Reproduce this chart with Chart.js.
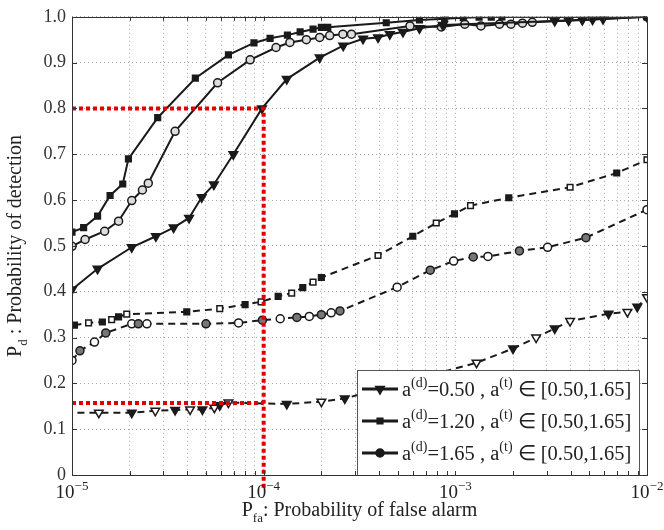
<!DOCTYPE html>
<html>
<head>
<meta charset="utf-8">
<script src="https://cdn.jsdelivr.net/npm/chart.js@4/dist/chart.umd.min.js"></script>
<style>
  body { margin: 0; background: #fff; }
  #wrap { width: 664px; height: 530px; }
</style>
</head>
<body>
<div id="wrap"><canvas id="chart" width="664" height="530"></canvas></div>
<script>
// a(d)=0.50, solid line, filled down-triangles
const triSolidX = [1e-5, 1.36e-5, 2.05e-5, 2.74e-5, 3.39e-5, 4.08e-5, 4.75e-5, 5.5e-5, 6.95e-5, 9.8e-5,
    1.32e-4, 1.96e-4, 2.6e-4, 3.3e-4, 3.95e-4, 4.55e-4, 5.33e-4, 6.5e-4, 8.6e-4,
    3.3e-3, 3.9e-3, 4.6e-3, 5.2e-3, 5.9e-3, 1e-2];
const triSolidY = [0.405, 0.45, 0.497, 0.521, 0.54, 0.561, 0.606, 0.634, 0.70, 0.80,
    0.864, 0.911, 0.937, 0.952, 0.955, 0.962, 0.967, 0.975, 0.982,
    0.991, 0.992, 0.993, 0.994, 0.995, 1.0];

// a(d)=1.20, solid line, filled squares
const sqSolidX = [1e-5, 1.15e-5, 1.36e-5, 1.58e-5, 1.84e-5, 1.97e-5, 2.8e-5, 4.4e-5, 6.55e-5, 8.9e-5,
    1.08e-4, 1.33e-4, 1.55e-4, 1.81e-4, 2.0e-4, 2.16e-4, 4.36e-4, 6.5e-4, 8.8e-4, 1.1e-3,
    1.33e-3, 1.54e-3, 1.75e-3, 1e-2];
const sqSolidY = [0.53, 0.54, 0.565, 0.61, 0.635, 0.69, 0.78, 0.866, 0.917, 0.943,
    0.953, 0.96, 0.967, 0.973, 0.977, 0.977, 0.987, 0.993, 0.996, 0.998,
    0.999, 0.999, 1.0, 1.0];

// a(d)=1.65, solid line, circles
const ciSolidX = [1e-5, 1.17e-5, 1.48e-5, 1.75e-5, 2.05e-5, 2.33e-5, 2.5e-5, 3.45e-5, 5.75e-5, 8.5e-5,
    1.16e-4, 1.37e-4, 1.67e-4, 1.96e-4, 2.21e-4, 2.59e-4, 2.87e-4, 5.8e-4, 8.45e-4, 1.12e-3,
    1.36e-3, 1.7e-3, 1.95e-3, 2.24e-3, 2.52e-3, 1e-2];
const ciSolidY = [0.499, 0.514, 0.532, 0.554, 0.599, 0.622, 0.637, 0.75, 0.856, 0.906,
    0.933, 0.944, 0.95, 0.955, 0.959, 0.962, 0.962, 0.98, 0.978, 0.984,
    0.98, 0.984, 0.984, 0.986, 0.988, 1.0];

// dashed counterparts
const triDashX = [8e-6, 1.38e-5, 2.05e-5, 2.72e-5, 3.45e-5, 4.13e-5, 4.79e-5, 5.53e-5, 5.9e-5, 6.55e-5,
    1.32e-4, 2e-4, 2.65e-4, 1.29e-3, 2.0e-3, 2.64e-3, 3.3e-3, 3.97e-3, 6.3e-3, 7.9e-3, 8.9e-3, 1e-2];
const triDashY = [0.136, 0.136, 0.136, 0.14, 0.142, 0.143, 0.143, 0.147, 0.152, 0.158,
    0.155, 0.16, 0.167, 0.245, 0.276, 0.3, 0.32, 0.336, 0.352, 0.356, 0.367, 0.388];

const sqDashX = [1.03e-5, 1.22e-5, 1.44e-5, 1.61e-5, 1.75e-5, 1.93e-5, 3.97e-5, 5.9e-5, 8.0e-5, 9.7e-5,
    1.19e-4, 1.4e-4, 1.6e-4, 1.81e-4, 2.0e-4, 3.95e-4, 6.0e-4, 7.95e-4, 9.9e-4, 1.2e-3,
    1.9e-3, 3.97e-3, 6.95e-3, 1e-2];
const sqDashY = [0.327, 0.332, 0.334, 0.339, 0.345, 0.351, 0.356, 0.363, 0.372, 0.378,
    0.39, 0.397, 0.409, 0.421, 0.431, 0.479, 0.521, 0.55, 0.57, 0.588,
    0.605, 0.628, 0.659, 0.688];

const ciDashX = [1e-5, 1.1e-5, 1.31e-5, 1.5e-5, 2.05e-5, 2.22e-5, 2.46e-5, 5e-5, 7.4e-5, 9.85e-5,
    1.22e-4, 1.49e-4, 1.73e-4, 2.0e-4, 2.25e-4, 2.5e-4, 4.97e-4, 7.4e-4, 9.8e-4, 1.24e-3,
    1.48e-3, 2.16e-3, 3.03e-3, 4.8e-3, 1e-2];
const ciDashY = [0.25, 0.271, 0.29, 0.31, 0.33, 0.33, 0.33, 0.33, 0.332, 0.338,
    0.341, 0.344, 0.346, 0.35, 0.354, 0.358, 0.41, 0.447, 0.467, 0.476,
    0.477, 0.489, 0.497, 0.518, 0.579];

// red guide lines (Pd = 0.8 and 0.157 at Pfa = 1e-4)
const guideHighX = [1e-5, 1e-4, 1e-4];
const guideHighY = [0.8, 0.8, -0.028];
const guideLowX = [1e-5, 1e-4];
const guideLowY = [0.157, 0.157];

// axes / legend text
const xDecades = [-5, -4, -3, -2];
const legendDet = ['0.50', '1.20', '1.65'];
const legendRange = '[0.50,1.65]';
const xTitle = [['P', 0], ['fa', -1], [': Probability of false alarm', 0]];
const yTitle = [['P', 0], ['d', -1], [' : Probability of detection', 0]];

const FONT = '"Liberation Serif", "Times New Roman", serif';
const INK = '#1a1a1a';

function pts(xs, ys) {
    return xs.map((x, i) => ({ x: x, y: ys[i] }));
}

function richWidth(ctx, parts, size) {
    let w = 0;
    for (const [t, k] of parts) {
        ctx.font = (k ? Math.round(size * 0.66) : size) + 'px ' + FONT;
        w += ctx.measureText(t).width;
    }
    return w;
}

function drawRich(ctx, parts, x, y, size) {
    let cx = x;
    for (const [t, k] of parts) {
        const fs = k ? Math.round(size * 0.66) : size;
        ctx.font = fs + 'px ' + FONT;
        const dy = k === 1 ? -size * 0.42 : (k === -1 ? size * 0.32 : 0);
        ctx.fillText(t, cx, y + dy);
        cx += ctx.measureText(t).width;
    }
}

const alt = c => (c.dataIndex % 2 ? '#fff' : INK);

const solid = { borderColor: INK, borderWidth: 2, pointBorderColor: INK, pointBorderWidth: 1.5, tension: 0 };
const dashed = Object.assign({}, solid, { borderDash: [7, 5] });

const datasets = [
    { label: 'guide high', data: pts(guideHighX, guideHighY), borderColor: '#e00000', borderWidth: 4,
      borderDash: [4, 3], pointRadius: 0, clip: false, fill: false },
    { label: 'guide low', data: pts(guideLowX, guideLowY), borderColor: '#e00000', borderWidth: 4,
      borderDash: [4, 3], pointRadius: 0, fill: false },
    Object.assign({ label: 'a(d)=0.50', data: pts(triSolidX, triSolidY), pointStyle: 'triangle', rotation: 180,
      pointRadius: 5, pointBackgroundColor: INK }, solid),
    Object.assign({ label: 'a(d)=1.20', data: pts(sqSolidX, sqSolidY), pointStyle: 'rect',
      pointRadius: 4, pointBackgroundColor: INK }, solid),
    Object.assign({ label: 'a(d)=1.65', data: pts(ciSolidX, ciSolidY), pointStyle: 'circle',
      pointRadius: 4, pointBackgroundColor: '#ddd' }, solid),
    Object.assign({ label: 'a(d)=0.50 dashed', data: pts(triDashX, triDashY), pointStyle: 'triangle', rotation: 180,
      pointRadius: 5, pointBackgroundColor: alt }, dashed),
    Object.assign({ label: 'a(d)=1.20 dashed', data: pts(sqDashX, sqDashY), pointStyle: 'rect',
      pointRadius: 4, pointBackgroundColor: alt }, dashed),
    Object.assign({ label: 'a(d)=1.65 dashed', data: pts(ciDashX, ciDashY), pointStyle: 'circle',
      pointRadius: 4, pointBackgroundColor: c => (c.dataIndex % 2 ? '#777' : '#fff') }, dashed)
];

const decorations = {
    id: 'decorations',
    afterDatasetsDraw(chart) {
        // legend box inside the plot, lower right
        const ctx = chart.ctx;
        const a = chart.chartArea;
        const box = { l: a.right - 290, t: a.bottom - 105, r: a.right - 7, b: a.bottom + 1 };
        ctx.save();
        ctx.fillStyle = '#fff';
        ctx.fillRect(box.l, box.t, box.r - box.l, box.b - box.t);
        ctx.strokeStyle = '#555';
        ctx.lineWidth = 1;
        ctx.strokeRect(box.l + 0.5, box.t + 0.5, box.r - box.l - 1, box.b - box.t - 1);
        const styles = [['triangle', 5, 180], ['rect', 4, 0], ['circle', 4, 0]];
        for (let i = 0; i < legendDet.length; i++) {
            const cy = box.t + 19 + i * 32;
            ctx.strokeStyle = INK;
            ctx.lineWidth = 3;
            ctx.setLineDash([]);
            ctx.beginPath();
            ctx.moveTo(box.l + 5, cy);
            ctx.lineTo(box.l + 41, cy);
            ctx.stroke();
            ctx.fillStyle = INK;
            ctx.lineWidth = 1.5;
            Chart.helpers.drawPoint(ctx, { pointStyle: styles[i][0], radius: styles[i][1], rotation: styles[i][2], borderWidth: 1.5 }, box.l + 23, cy);
            ctx.fillStyle = '#222';
            ctx.textBaseline = 'alphabetic';
            ctx.textAlign = 'left';
            const parts = [['a', 0], ['(d)', 1], ['=' + legendDet[i] + ' , a', 0], ['(t)', 1], [' \u2208 ' + legendRange, 0]];
            drawRich(ctx, parts, box.l + 45, cy + 7, 20.5);
        }
        ctx.restore();
    },
    afterDraw(chart) {
        const ctx = chart.ctx;
        const a = chart.chartArea;
        const xs = chart.scales.x;
        const ys = chart.scales.y;
        ctx.save();
        // frame
        ctx.strokeStyle = '#333';
        ctx.lineWidth = 1;
        ctx.strokeRect(Math.round(a.left) + 0.5, Math.round(a.top) + 0.5, Math.round(a.right - a.left), Math.round(a.bottom - a.top));
        // inner tick marks
        ctx.beginPath();
        xs.ticks.forEach(t => {
            const px = Math.round(xs.getPixelForValue(t.value)) + 0.5;
            ctx.moveTo(px, a.bottom); ctx.lineTo(px, a.bottom - 4);
            ctx.moveTo(px, a.top); ctx.lineTo(px, a.top + 4);
        });
        ys.ticks.forEach(t => {
            const py = Math.round(ys.getPixelForValue(t.value)) + 0.5;
            ctx.moveTo(a.left, py); ctx.lineTo(a.left + 5, py);
            ctx.moveTo(a.right, py); ctx.lineTo(a.right - 5, py);
        });
        ctx.stroke();
        // x tick labels 10^e
        ctx.fillStyle = '#222';
        ctx.textBaseline = 'alphabetic';
        ctx.textAlign = 'left';
        xDecades.forEach(e => {
            const px = xs.getPixelForValue(Math.pow(10, e));
            const parts = [['10', 0], ['\u2212' + Math.abs(e), 1]];
            const w = richWidth(ctx, parts, 19);
            drawRich(ctx, parts, px - w / 2, a.bottom + 23, 19);
        });
        // x title
        const wx = richWidth(ctx, xTitle, 20);
        drawRich(ctx, xTitle, (a.left + a.right) / 2 - wx / 2, a.bottom + 41, 20);
        // y title, centred on the axis
        const wy = richWidth(ctx, yTitle, 20);
        ctx.translate(21, (a.top + a.bottom) / 2);
        ctx.rotate(-Math.PI / 2);
        drawRich(ctx, yTitle, -wy / 2, 0, 20);
        ctx.restore();
    }
};

const ctx = document.getElementById('chart').getContext('2d');
new Chart(ctx, {
    type: 'line',
    data: { datasets: datasets },
    options: {
        responsive: false,
        animation: false,
        layout: { padding: { left: 0, right: 17, top: 16, bottom: 0 } },
        plugins: { legend: { display: false }, tooltip: { enabled: false } },
        scales: {
            x: {
                type: 'logarithmic',
                min: 1e-5,
                max: 1e-2,
                afterBuildTicks: scale => {
                    const ticks = [];
                    for (let e = -5; e < -2; e++) {
                        for (let k = 1; k < 10; k++) ticks.push({ value: k * Math.pow(10, e) });
                    }
                    ticks.push({ value: 1e-2 });
                    scale.ticks = ticks;
                },
                afterFit: scale => { scale.height = 55; },
                ticks: { autoSkip: false, callback: () => '' },
                grid: { color: '#a8a8a8', lineWidth: 1, drawTicks: false },
                border: { display: false, dash: [1, 3] }
            },
            y: {
                min: 0,
                max: 1,
                afterFit: scale => { scale.width = 72; },
                ticks: { stepSize: 0.1, padding: 6, color: '#333', font: { family: FONT, size: 18 } },
                grid: { color: '#a8a8a8', lineWidth: 1, drawTicks: false },
                border: { display: false, dash: [1, 3] }
            }
        }
    },
    plugins: [decorations]
});
</script>
</body>
</html>
